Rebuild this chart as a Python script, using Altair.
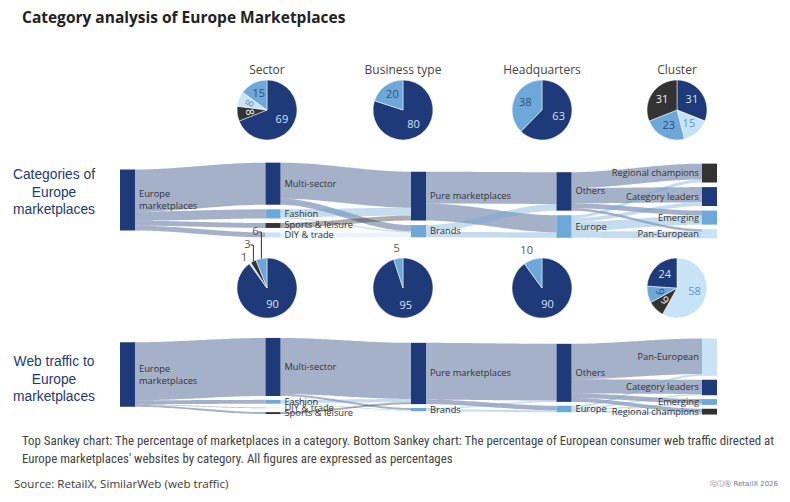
import altair as alt
import pandas as pd
import math
from collections import defaultdict

# ---------------- colours ----------------
NAVY, MID, LIGHT, DARK = "#1f3a78", "#6ea8d8", "#c8e3f6", "#333333"
NODE_COLOR = {
    "Europe marketplaces": NAVY, "Multi-sector": NAVY, "Fashion": MID,
    "Sports & leisure": DARK, "DIY & trade": LIGHT, "Pure marketplaces": NAVY,
    "Brands": MID, "Others": NAVY, "Europe": MID, "Regional champions": DARK,
    "Category leaders": NAVY, "Emerging": MID, "Pan-European": LIGHT,
}
LABEL_ON = {NAVY: "#d3e4f6", DARK: "#f2f2f2", MID: "#2f4f7f", LIGHT: "#5f95c8"}

# ---------------- data ----------------
# Top Sankey: percentage of marketplaces in each category
top_columns = [
    ["Europe marketplaces"],
    ["Multi-sector", "Fashion", "Sports & leisure", "DIY & trade"],
    ["Pure marketplaces", "Brands"],
    ["Others", "Europe"],
    ["Regional champions", "Category leaders", "Emerging", "Pan-European"],
]
top_source = ["Europe marketplaces"] * 4 + \
    ["Multi-sector", "Multi-sector", "Fashion", "Fashion", "Sports & leisure", "DIY & trade"] + \
    ["Pure marketplaces", "Pure marketplaces", "Brands", "Brands"] + \
    ["Others"] * 4 + ["Europe"] * 4
top_target = ["Multi-sector", "Fashion", "Sports & leisure", "DIY & trade"] + \
    ["Pure marketplaces", "Brands", "Pure marketplaces", "Brands", "Pure marketplaces", "Brands"] + \
    ["Others", "Europe", "Others", "Europe"] + \
    ["Regional champions", "Category leaders", "Emerging", "Pan-European"] * 2
top_value = [69, 15, 8, 8,
             59, 10, 13, 2, 8, 8,
             52, 28, 11, 9,
             26, 25, 8, 4,
             5, 6, 15, 11]

# Bottom Sankey: percentage of web traffic
bottom_columns = [
    ["Europe marketplaces"],
    ["Multi-sector", "Fashion", "DIY & trade", "Sports & leisure"],
    ["Pure marketplaces", "Brands"],
    ["Others", "Europe"],
    ["Pan-European", "Category leaders", "Emerging", "Regional champions"],
]
bottom_source = ["Europe marketplaces"] * 4 + \
    ["Multi-sector", "Multi-sector", "Fashion", "Fashion", "DIY & trade", "Sports & leisure"] + \
    ["Pure marketplaces", "Pure marketplaces", "Brands", "Brands"] + \
    ["Others"] * 4 + ["Europe"] * 4
bottom_target = ["Multi-sector", "Fashion", "DIY & trade", "Sports & leisure"] + \
    ["Pure marketplaces", "Brands", "Pure marketplaces", "Brands", "Brands", "Pure marketplaces"] + \
    ["Others", "Europe", "Others", "Europe"] + \
    ["Pan-European", "Category leaders", "Emerging", "Regional champions"] * 2
bottom_value = [90, 6, 1, 3,
                87, 3, 5, 1, 1, 3,
                88, 7, 2, 3,
                55, 22, 7, 6,
                3, 2, 2, 3]

pie_titles = ["Sector", "Business type", "Headquarters", "Cluster"]
top_pie_cats = [
    ["Multi-sector", "Sports & leisure", "DIY & trade", "Fashion"],
    ["Pure marketplaces", "Brands"],
    ["Others", "Europe"],
    ["Category leaders", "Pan-European", "Emerging", "Regional champions"],
]
top_pie_vals = [[69, 8, 8, 15], [80, 20], [63, 38], [31, 15, 23, 31]]
bottom_pie_cats = [
    ["Multi-sector", "DIY & trade", "Sports & leisure", "Fashion"],
    ["Pure marketplaces", "Brands"],
    ["Others", "Europe"],
    ["Pan-European", "Regional champions", "Emerging", "Category leaders"],
]
bottom_pie_vals = [[90, 1, 3, 6], [95, 5], [90, 10], [58, 9, 9, 24]]

title_text = "Category analysis of Europe Marketplaces"
row_labels = ["Categories of\nEurope\nmarketplaces", "Web traffic to\nEurope\nmarketplaces"]
footnote_lines = [
    "Top Sankey chart: The percentage of marketplaces in a category. Bottom Sankey chart: The percentage of European consumer web traffic directed at",
    "Europe marketplaces' websites by category. All figures are expressed as percentages",
]
source_text = "Source: RetailX, SimilarWeb (web traffic)"
credit_text = "ⓒⓘⓢ RetailX 2026"

# ---------------- layout constants ----------------
FONT = "Open Sans"
NODE_W = 15 / 145.5
N_STEPS = 40
XS = alt.Scale(domain=[0, 4], range=[120, 702])
PIE_X = [267, 403, 542, 677]
PIE_R = 30


def sankey(columns, src, tgt, val, gap, yrange, shift):
    ys = alt.Scale(domain=[-60, 60], range=yrange)
    inflow, outflow = defaultdict(float), defaultdict(float)
    for s, t, v in zip(src, tgt, val):
        outflow[s] += v
        inflow[t] += v
    pos, col_of = {}, {}
    for ci, names in enumerate(columns):
        sizes = [max(inflow[n], outflow[n]) for n in names]
        h = sum(sizes) + gap * (len(names) - 1)
        y = -h / 2 + shift[ci]
        for n, sz in zip(names, sizes):
            pos[n] = (y, y + sz)
            col_of[n] = ci
            y += sz + gap
    links = list(zip(src, tgt, val))
    sy, ty = {}, {}
    for n in pos:
        outs = sorted([i for i, l in enumerate(links) if l[0] == n], key=lambda i: pos[links[i][1]][0])
        y = pos[n][0]
        for i in outs:
            sy[i] = (y, y + links[i][2])
            y += links[i][2]
        ins = sorted([i for i, l in enumerate(links) if l[1] == n], key=lambda i: pos[links[i][0]][0])
        y = pos[n][0]
        for i in ins:
            ty[i] = (y, y + links[i][2])
            y += links[i][2]
    rows = []
    for i, (s, t, v) in enumerate(links):
        x0, x1 = col_of[s] + NODE_W, col_of[t]
        for k in range(N_STEPS + 1):
            u = k / N_STEPS
            e = u * u * (3 - 2 * u)
            rows.append(dict(link=i, x=x0 + (x1 - x0) * u,
                             y=sy[i][0] + (ty[i][0] - sy[i][0]) * e,
                             y2=sy[i][1] + (ty[i][1] - sy[i][1]) * e,
                             color=NODE_COLOR[s]))
    link_df = pd.DataFrame(rows)
    node_df = pd.DataFrame([dict(name=n, x=col_of[n], x2=col_of[n] + NODE_W, y0=pos[n][0], y1=pos[n][1],
                                 ym=(pos[n][0] + pos[n][1]) / 2, color=NODE_COLOR[n],
                                 label=n, col=col_of[n]) for n in pos])
    links_ch = alt.Chart(link_df).mark_area(opacity=0.4, orient="vertical").encode(
        x=alt.X("x:Q", scale=XS, axis=None),
        y=alt.Y("y:Q", scale=ys, axis=None, stack=None),
        y2="y2:Q",
        detail="link:N",
        color=alt.Color("color:N", scale=None),
    )
    nodes_ch = alt.Chart(node_df).mark_rect().encode(
        x=alt.X("x:Q", scale=XS, axis=None), x2="x2:Q",
        y=alt.Y("y0:Q", scale=ys, axis=None), y2="y1:Q",
        color=alt.Color("color:N", scale=None),
    )
    first = node_df[node_df["col"] == 0].assign(label=lambda d: d["label"].str.replace(" ", "\n"))
    mid_cols = node_df[(node_df["col"] > 0) & (node_df["col"] < len(columns) - 1)]
    last = node_df[node_df["col"] == len(columns) - 1]
    lab_first = alt.Chart(first).mark_text(
        align="left", baseline="middle", dx=4, dy=-6, font=FONT, fontSize=9.3, color="#333333",
        lineBreak="\n", lineHeight=12,
    ).encode(x=alt.X("x2:Q", scale=XS, axis=None), y=alt.Y("ym:Q", scale=ys, axis=None), text="label:N")
    lab_left = alt.Chart(mid_cols).mark_text(
        align="left", baseline="middle", dx=4, font=FONT, fontSize=9.3, color="#333333",
    ).encode(x=alt.X("x2:Q", scale=XS, axis=None), y=alt.Y("ym:Q", scale=ys, axis=None), text="label:N")
    lab_right = alt.Chart(last).mark_text(
        align="right", baseline="middle", dx=-3, font=FONT, fontSize=9.3, color="#333333",
    ).encode(x=alt.X("x:Q", scale=XS, axis=None), y=alt.Y("ym:Q", scale=ys, axis=None), text="label:N")
    return alt.layer(links_ch, nodes_ch, lab_first, lab_left, lab_right)


def pie(cats, vals, cx, cy, R):
    tot = float(sum(vals))
    rows, cum = [], 0.0
    for i, (c, v) in enumerate(zip(cats, vals)):
        lab = str(v)
        a0 = cum / tot * 360
        cum += v
        a1 = cum / tot * 360
        mid, span = (a0 + a1) / 2, a1 - a0
        fill = NODE_COLOR[c]
        inside = span >= 25 * len(lab)
        ang = 0.0
        if inside and span < 0.12 * 360:
            for cand in (mid, mid - 180):
                a = (cand + 180) % 360 - 180
                if abs(a) <= 90:
                    ang = a
        rows.append(dict(o=i, v=v, fill=fill, lab=lab, inside=inside, mid=mid,
                         tc=LABEL_ON[fill], ang=ang))
    outside = [r for r in rows if not r["inside"]]
    stacked = len(outside) >= 2
    for r in rows:
        r["lab_in"] = r["lab"] if r["inside"] else ""
        r["lab_out"] = r["lab"] if (not r["inside"] and not stacked) else ""
    df = pd.DataFrame(rows)
    base = alt.Chart(df).encode(
        theta=alt.Theta("v:Q", stack=True), order=alt.Order("o:Q"),
        x=alt.value(cx), y=alt.value(cy),
    )
    arc = base.mark_arc(outerRadius=R, stroke="white", strokeWidth=0.5).encode(
        color=alt.Color("fill:N", scale=None))
    t_in = base.mark_text(font=FONT, fontSize=11, baseline="middle", radius=0.6 * R).encode(
        text="lab_in:N", color=alt.Color("tc:N", scale=None), angle=alt.Angle("ang:Q", scale=None))
    t_out = base.mark_text(font=FONT, fontSize=11, baseline="middle", align="right", dx=3,
                           radius=R + 9, color="#555555").encode(text="lab_out:N")
    layers = [arc, t_in, t_out]
    if stacked:
        lab_rows, rule_rows = [], []
        for k, r in enumerate(sorted(outside, key=lambda r: r["mid"])):
            th = math.radians(r["mid"])
            ex, ey = cx + R * math.sin(th), cy - R * math.cos(th)
            ly = cy - R - 13 * k
            lab_rows.append(dict(x=ex - 6, y=ly, t=r["lab"]))
            if k > 0:
                rule_rows.append(dict(x=ex - 3, y=ly, x2=ex, y2=ly))
                rule_rows.append(dict(x=ex, y=ly, x2=ex, y2=ey))
        layers.append(alt.Chart(pd.DataFrame(lab_rows)).mark_text(
            font=FONT, fontSize=11, baseline="middle", color="#555555").encode(
            x=alt.X("x:Q", scale=None), y=alt.Y("y:Q", scale=None), text="t:N"))
        if rule_rows:
            layers.append(alt.Chart(pd.DataFrame(rule_rows)).mark_rule(color="#333333", strokeWidth=1).encode(
                x=alt.X("x:Q", scale=None), y=alt.Y("y:Q", scale=None), x2="x2:Q", y2="y2:Q"))
    return alt.layer(*layers)


def text(df, **mk):
    return alt.Chart(df).mark_text(**mk).encode(
        x=alt.X("x:Q", scale=None), y=alt.Y("y:Q", scale=None), text="t:N")


layers = []
layers.append(text(pd.DataFrame([dict(x=22, y=18, t=title_text)]),
                   align="left", baseline="middle", font=FONT, fontSize=15.5, fontWeight="bold", color="#222222"))
layers.append(text(pd.DataFrame([dict(x=x, y=70, t=t) for x, t in zip(PIE_X, pie_titles)]),
                   align="center", baseline="middle", font=FONT, fontSize=12, color="#444444"))
layers.append(text(pd.DataFrame([dict(x=54, y=175, t=row_labels[0]), dict(x=54, y=362, t=row_labels[1])]),
                   align="center", baseline="middle", font="Liberation Sans", fontSize=13.8, lineHeight=17.5,
                   color="#1f3a6e", lineBreak="\n"))
layers.append(text(pd.DataFrame([dict(x=22, y=441, t=footnote_lines[0]), dict(x=22, y=459, t=footnote_lines[1])]),
                   align="left", baseline="middle", font="'Liberation Sans Narrow', 'Roboto Condensed', sans-serif",
                   fontSize=12.9, color="#444444"))
layers.append(text(pd.DataFrame([dict(x=14, y=485, t=source_text)]),
                   align="left", baseline="middle", font=FONT, fontSize=11.6, color="#3a3a3a"))
layers.append(text(pd.DataFrame([dict(x=778, y=484, t=credit_text)]),
                   align="right", baseline="middle", font="DejaVu Sans", fontSize=7, color="#777777"))

layers.append(sankey(top_columns, top_source, top_target, top_value, gap=7.5,
                     yrange=[200 - 60 * 0.61, 200 + 60 * 0.61], shift=[0, 0, 7.4, 8.2, 1.6]))
layers.append(sankey(bottom_columns, bottom_source, bottom_target, bottom_value, gap=6,
                     yrange=[376 - 60 * 0.645, 376 + 60 * 0.645], shift=[-2.3, 0, 1.6, 3.1, 0.8]))

for cats, vals, cx in zip(top_pie_cats, top_pie_vals, PIE_X):
    layers.append(pie(cats, vals, cx, 110, PIE_R))
for cats, vals, cx in zip(bottom_pie_cats, bottom_pie_vals, PIE_X):
    layers.append(pie(cats, vals, cx, 288, PIE_R))

chart = alt.layer(*layers).resolve_scale(x="independent", y="independent", theta="independent").properties(
    width=790, height=502, padding=0, autosize=alt.AutoSizeParams(type="none"),
    background="white",
).configure_view(stroke=None)

chart.save("out.html", embed_options={"renderer": "svg", "actions": False})
